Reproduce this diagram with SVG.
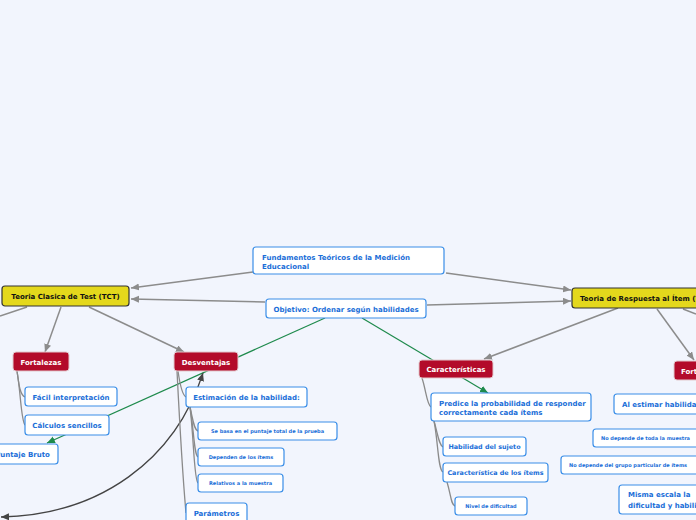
<svg xmlns="http://www.w3.org/2000/svg" width="696" height="520" viewBox="0 0 696 520">
<defs>
<style>
text{font-family:"DejaVu Sans",Verdana,sans-serif;font-weight:bold}
.bn rect{fill:#ffffff;stroke:#3a8ee8;stroke-width:1.2}
.bn text{fill:#1a6ed8;font-size:7px}
.bn text.s{font-size:5px}
.bn text.m{font-size:6.4px}
.rn rect{fill:#b30b2a;stroke:#e2c9cd;stroke-width:1}
.rn text{fill:#ffffff;font-size:7px}
.yn rect{fill:#e4d81c;stroke:#333333;stroke-width:1.2}
.yn text{fill:#111111;font-size:7px}
.c{text-anchor:middle}
.g{fill:none;stroke:#8c8c8c;stroke-width:1.5}
.gb{fill:none;stroke:#8a8a8a;stroke-width:1.3}
.gr{fill:none;stroke:#1e8a4c;stroke-width:1.2}
.dk{fill:none;stroke:#444444;stroke-width:1.3}
</style>
<marker id="ag" markerWidth="9" markerHeight="8" refX="8" refY="3.5" orient="auto" markerUnits="userSpaceOnUse"><path d="M0,0 L8,3.5 L0,7 z" fill="#8c8c8c"/></marker>
<marker id="agr" markerWidth="9" markerHeight="8" refX="8" refY="3.5" orient="auto" markerUnits="userSpaceOnUse"><path d="M0,0 L8,3.5 L0,7 z" fill="#1e8a4c"/></marker>
<marker id="adk" markerWidth="9" markerHeight="8" refX="8" refY="3.5" orient="auto-start-reverse" markerUnits="userSpaceOnUse"><path d="M0,0 L8,3.5 L0,7 z" fill="#444444"/></marker>
</defs>
<rect x="0" y="0" width="696" height="520" fill="#f2f5fd"/>
<g id="connectors">
<path class="g" d="M253 272 L131 288" marker-end="url(#ag)"/>
<path class="g" d="M446 273 L571 290" marker-end="url(#ag)"/>
<path class="g" d="M265 302 L131 299" marker-end="url(#ag)"/>
<path class="g" d="M427 305 L571 301" marker-end="url(#ag)"/>
<path class="g" d="M61 307 L45 352" marker-end="url(#ag)"/>
<path class="g" d="M89 307 L184 352" marker-end="url(#ag)"/>
<path class="g" d="M27 307 L0 316"/>
<path class="g" d="M618 308 L484 359" marker-end="url(#ag)"/>
<path class="g" d="M657 309 L694 360" marker-end="url(#ag)"/>
<path class="g" d="M683 309 L696 314"/>
<path class="gr" d="M325 318 L47 443" marker-end="url(#agr)"/>
<path class="gr" d="M362 318 L488 393" marker-end="url(#agr)"/>
<path class="dk" d="M203 373 C175 460 100 515 1 517" marker-start="url(#adk)" marker-end="url(#adk)"/>
<path class="gb" d="M17 371 C19 385 20 395 25 397"/>
<path class="gb" d="M17 371 C21 395 21 420 25 425"/>
<path class="gb" d="M178 371 C180 385 182 395 186 397"/>
<path class="gb" d="M177 371 C180 430 183 480 186 513"/>
<path class="gb" d="M190 407 C193 420 194 430 198 431"/>
<path class="gb" d="M190 407 C194 430 194 455 198 457"/>
<path class="gb" d="M190 407 C194 440 194 480 198 483"/>
<path class="gb" d="M422 378 C426 390 427 405 431 407"/>
<path class="gb" d="M434 421 C438 435 439 445 443 447"/>
<path class="gb" d="M434 421 C438 440 438 470 443 472"/>
<path class="gb" d="M447 482 C451 495 451 505 455 506"/>
</g>
<g id="n-fundamentos" class="bn"><rect x="253" y="247" width="191" height="27" rx="3"/><text x="262" y="260">Fundamentos Teóricos de la Medición</text><text x="262" y="269">Educacional</text></g>
<g id="n-objetivo" class="bn"><rect x="266" y="299" width="160" height="19" rx="3"/><text class="c" x="346" y="311.5">Objetivo: Ordenar según habilidades</text></g>
<g id="n-tct" class="yn"><rect x="2" y="286" width="127" height="20" rx="3"/><text class="c" x="65.5" y="299">Teoria Clasica de Test (TCT)</text></g>
<g id="n-tri" class="yn"><rect x="572" y="288" width="150" height="20" rx="3"/><text x="580" y="301">Teoria de Respuesta al Ítem (TRI)</text></g>
<g id="n-fort-l" class="rn"><rect x="13" y="352" width="56" height="19" rx="3"/><text class="c" x="41" y="364.5">Fortalezas</text></g>
<g id="n-desv" class="rn"><rect x="174" y="352" width="64" height="19" rx="3"/><text class="c" x="206" y="364.5">Desventajas</text></g>
<g id="n-caract" class="rn"><rect x="419" y="360" width="74" height="18" rx="3"/><text class="c" x="456" y="372">Características</text></g>
<g id="n-fort-r" class="rn"><rect x="674" y="361" width="60" height="19" rx="3"/><text x="681" y="373.5">Fortalezas</text></g>
<g id="n-facil" class="bn"><rect x="25" y="387" width="92" height="19" rx="3"/><text class="c" x="71" y="399.5">Fácil interpretación</text></g>
<g id="n-calculos" class="bn"><rect x="25" y="415" width="84" height="20" rx="3"/><text class="c" x="67" y="428">Cálculos sencillos</text></g>
<g id="n-puntaje" class="bn"><rect x="-13" y="444" width="71" height="20" rx="3"/><text class="c" x="22.5" y="457">Puntaje Bruto</text></g>
<g id="n-estim" class="bn"><rect x="186" y="387" width="121" height="20" rx="3"/><text class="c" x="246.5" y="400">Estimación de la habilidad:</text></g>
<g id="n-sebasa" class="bn"><rect x="198" y="422" width="139" height="18" rx="3"/><text class="c s" x="267.5" y="433">Se basa en el puntaje total de la prueba</text></g>
<g id="n-dependen" class="bn"><rect x="198" y="448" width="86" height="18" rx="3"/><text class="c s" x="241" y="459">Dependen de los ítems</text></g>
<g id="n-relativos" class="bn"><rect x="198" y="474" width="85" height="18" rx="3"/><text class="c s" x="240.5" y="485">Relativos a la muestra</text></g>
<g id="n-param" class="bn"><rect x="186" y="503" width="61" height="22" rx="3"/><text class="c" x="216.5" y="516">Parámetros</text></g>
<g id="n-predice" class="bn"><rect x="431" y="393" width="160" height="28" rx="3"/><text x="439" y="406">Predice la probabilidad de responder</text><text x="439" y="415">correctamente cada ítems</text></g>
<g id="n-habil" class="bn"><rect x="443" y="437" width="83" height="19" rx="3"/><text class="c m" x="484.5" y="449">Habilidad del sujeto</text></g>
<g id="n-caritems" class="bn"><rect x="443" y="463" width="105" height="19" rx="3"/><text class="c m" x="495.5" y="475">Característica de los ítems</text></g>
<g id="n-nivel" class="bn"><rect x="455" y="497" width="72" height="18" rx="3"/><text class="c s" x="491" y="508">Nivel de dificultad</text></g>
<g id="n-alestimar" class="bn"><rect x="614" y="394" width="120" height="20" rx="3"/><text x="622" y="407">Al estimar habilidades</text></g>
<g id="n-nodep1" class="bn"><rect x="593" y="429" width="130" height="18" rx="3"/><text class="s" x="601" y="440">No depende de toda la muestra</text></g>
<g id="n-nodep2" class="bn"><rect x="561" y="456" width="150" height="18" rx="3"/><text class="s" x="569" y="467">No depende del grupo particular de ítems</text></g>
<g id="n-misma" class="bn"><rect x="619" y="485" width="110" height="29" rx="3"/><text x="628" y="497">Misma escala la</text><text x="628" y="508">dificultad y habilidad</text></g>
</svg>
